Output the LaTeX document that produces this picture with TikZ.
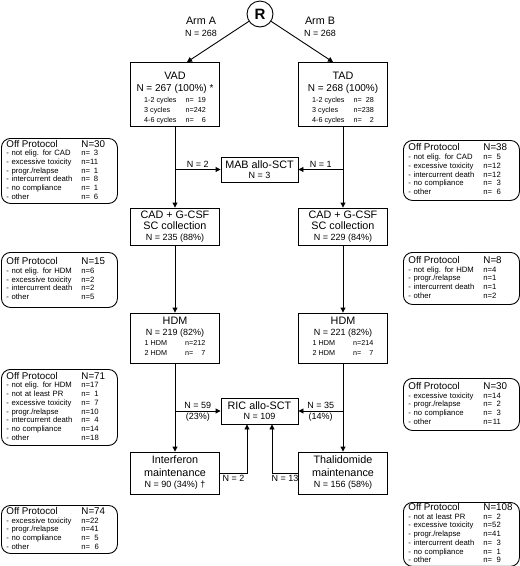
\documentclass[tikz,border=0pt]{standalone}
\usepackage{fontspec}
\setmainfont{Liberation Sans}
\usetikzlibrary{arrows.meta}
\newcommand\boxtitle{\fontsize{10.8}{12}\selectfont}
\newcommand\boxnum{\fontsize{9}{11}\selectfont}
\newcommand\boxsmall{\fontsize{7.2}{10}\selectfont}
\newcommand\offhead{\fontsize{9.8}{11}\selectfont}
\newcommand\offitem{\fontsize{7.7}{8.7}\selectfont}

\begin{document}
\begin{tikzpicture}[x=1pt, y=-1pt,
  box/.style={draw, line width=0.9pt, align=center, inner sep=1pt, font=\boxtitle},
  offbox/.style={draw, line width=0.9pt, rounded corners=9pt, anchor=north west, text width=106pt, align=left, inner xsep=5pt, inner ysep=1pt, font=\offitem},
  arr/.style={line width=0.9pt, -{Triangle[length=5pt, width=5pt]}},
  lbl/.style={font=\boxnum, inner sep=1.5pt}]
  \useasboundingbox (0,0) rectangle (520,566);
  % randomisation
  \node[circle, draw, line width=0.9pt, minimum size=26, inner sep=0pt, font=\fontsize{15}{15}\selectfont\bfseries] (R) at (260,14) {R};
  \node[align=center, font=\boxtitle] (armA) at (201,27) {Arm A\\{\boxnum N = 268}};
  \node[align=center, font=\boxtitle] (armB) at (320,27) {Arm B\\{\boxnum N = 268}};
  % induction
  \node[box, minimum width=89, minimum height=61] (vad) at (175,94.5) {\rule{0pt}{16pt}VAD\\[0pt]{\fontsize{10}{11}\selectfont N = 267 (100\%) *}\\[-1pt]{\boxsmall\begin{tabular}[t]{@{}l@{\hspace{9pt}}l@{}r@{}}1-2 cycles & n= & 19\\3 cycles & n= & 242\\4-6 cycles & n= & 6\end{tabular}}};
  \node[box, minimum width=89, minimum height=61] (tad) at (343,94.5) {\rule{0pt}{16pt}TAD\\[0pt]{\fontsize{10}{11}\selectfont N = 268 (100\%)}\\[-1pt]{\boxsmall\begin{tabular}[t]{@{}l@{\hspace{9pt}}l@{}r@{}}1-2 cycles & n= & 28\\3 cycles & n= & 238\\4-6 cycles & n= & 2\end{tabular}}};
  \node[box, minimum width=77, minimum height=25] (mab) at (259.5,169.5) {MAB allo-SCT\\[-2pt]{\boxnum N = 3}};
  % stem cell collection
  \node[box, minimum width=89, minimum height=37] (cadA) at (175,226.5) {CAD + G-CSF\\[-1pt]SC collection\\[-1pt]{\boxnum N = 235 (88\%)}};
  \node[box, minimum width=89, minimum height=37] (cadB) at (343,226.5) {CAD + G-CSF\\[-1pt]SC collection\\[-1pt]{\boxnum N = 229 (84\%)}};
  % high dose
  \node[box, minimum width=89, minimum height=50] (hdmA) at (175,338) {HDM\\[-1pt]{\boxnum N = 219 (82\%)}\\[-2pt]{\boxsmall\begin{tabular}[t]{@{}l@{\hspace{18pt}}l@{}r@{}}1 HDM & n= & 212\\2 HDM & n= & 7\end{tabular}}};
  \node[box, minimum width=89, minimum height=50] (hdmB) at (343,338) {HDM\\[-1pt]{\boxnum N = 221 (82\%)}\\[-2pt]{\boxsmall\begin{tabular}[t]{@{}l@{\hspace{18pt}}l@{}r@{}}1 HDM & n= & 214\\2 HDM & n= & 7\end{tabular}}};
  \node[box, minimum width=77, minimum height=26] (ric) at (259.5,411) {RIC allo-SCT\\[-2pt]{\boxnum N = 109}};
  % maintenance
  \node[box, minimum width=89, minimum height=42] (ifn) at (175,473) {Interferon\\[1pt]maintenance\\[-1pt]{\boxnum N = 90 (34\%) \textdagger}};
  \node[box, minimum width=89, minimum height=42] (thal) at (343,473) {Thalidomide\\[1pt]maintenance\\[-1pt]{\boxnum N = 156 (58\%)}};
  % connectors
  \draw[arr] (R) -- ([xshift=12]vad.north);
  \draw[arr] (R) -- ([xshift=-10]tad.north);
  \foreach \a/\b in {vad/cadA, cadA/hdmA, hdmA/ifn, tad/cadB, cadB/hdmB, hdmB/thal} \draw[arr] (\a) -- (\b);
  \draw[arr] (vad.south |- mab.west) -- node[lbl, above] (nmabA) {N = 2} (mab.west);
  \draw[arr] (tad.south |- mab.east) -- node[lbl, above] (nmabB) {N = 1} (mab.east);
  \draw[arr] (hdmA.south |- ric.west) -- node[lbl, above] (nricA) {N = 59} node[lbl, below] (pricA) {(23\%)} (ric.west);
  \draw[arr] (hdmB.south |- ric.east) -- node[lbl, above] (nricB) {N = 35} node[lbl, below] (pricB) {(14\%)} (ric.east);
  \draw[arr] (ifn.east) -| node[lbl, below, pos=0.25] (nifn) {N = 2} ([xshift=-12.5]ric.south);
  \draw[arr] (thal.west) -| node[lbl, below, pos=0.25] (nthal) {N = 13} ([xshift=12.5]ric.south);
  % off protocol, arm A
  \node[offbox, minimum height=65] (offA1) at (1,138) {\begin{tabular}{@{}p{75pt}@{}l@{}r@{}}
    {\offhead Off Protocol} & \multicolumn{2}{@{}l@{}}{\rlap{\offhead N=30}}\\
    - not elig. for CAD & n= & 3\\
    - excessive toxicity & n= & 11\\
    - progr./relapse & n= & 1\\
    - intercurrent death & n= & 8\\
    - no compliance & n= & 1\\
    - other & n= & 6
  \end{tabular}};
  \node[offbox, minimum height=55] (offA2) at (1,252) {\begin{tabular}{@{}p{75pt}@{}l@{}r@{}}
    {\offhead Off Protocol} & \multicolumn{2}{@{}l@{}}{\rlap{\offhead N=15}}\\
    - not elig. for HDM & n= & 6\\
    - excessive toxicity & n= & 2\\
    - intercurrent death & n= & 2\\
    - other & n= & 5
  \end{tabular}};
  \node[offbox, minimum height=76] (offA3) at (1,369) {\begin{tabular}{@{}p{75pt}@{}l@{}r@{}}
    {\offhead Off Protocol} & \multicolumn{2}{@{}l@{}}{\rlap{\offhead N=71}}\\
    - not elig. for HDM & n= & 17\\
    - not at least PR & n= & 1\\
    - excessive toxicity & n= & 7\\
    - progr./relapse & n= & 10\\
    - intercurrent death & n= & 4\\
    - no compliance & n= & 14\\
    - other & n= & 18
  \end{tabular}};
  \node[offbox, minimum height=48] (offA4) at (1,505) {\begin{tabular}{@{}p{75pt}@{}l@{}r@{}}
    {\offhead Off Protocol} & \multicolumn{2}{@{}l@{}}{\rlap{\offhead N=74}}\\
    - excessive toxicity & n= & 22\\
    - progr./relapse & n= & 41\\
    - no compliance & n= & 5\\
    - other & n= & 6
  \end{tabular}};
  % off protocol, arm B
  \node[offbox, minimum height=60] (offB1) at (403,140) {\begin{tabular}{@{}p{75pt}@{}l@{}r@{}}
    {\offhead Off Protocol} & \multicolumn{2}{@{}l@{}}{\rlap{\offhead N=38}}\\
    - not elig. for CAD & n= & 5\\
    - excessive toxicity & n= & 12\\
    - intercurrent death & n= & 12\\
    - no compliance & n= & 3\\
    - other & n= & 6
  \end{tabular}};
  \node[offbox, minimum height=52] (offB2) at (403,252) {\begin{tabular}{@{}p{75pt}@{}l@{}r@{}}
    {\offhead Off Protocol} & \multicolumn{2}{@{}l@{}}{\rlap{\offhead N=8}}\\
    - not elig. for HDM & n= & 4\\
    - progr./relapse & n= & 1\\
    - intercurrent death & n= & 1\\
    - other & n= & 2
  \end{tabular}};
  \node[offbox, minimum height=52] (offB3) at (403,378) {\begin{tabular}{@{}p{75pt}@{}l@{}r@{}}
    {\offhead Off Protocol} & \multicolumn{2}{@{}l@{}}{\rlap{\offhead N=30}}\\
    - excessive toxicity & n= & 14\\
    - progr./relapse & n= & 2\\
    - no compliance & n= & 3\\
    - other & n= & 11
  \end{tabular}};
  \node[offbox, minimum height=61] (offB4) at (403,502) {\begin{tabular}{@{}p{75pt}@{}l@{}r@{}}
    {\offhead Off Protocol} & \multicolumn{2}{@{}l@{}}{\rlap{\offhead N=108}}\\
    - not at least PR & n= & 2\\
    - excessive toxicity & n= & 52\\
    - progr./relapse & n= & 41\\
    - intercurrent death & n= & 3\\
    - no compliance & n= & 1\\
    - other & n= & 9
  \end{tabular}};
\end{tikzpicture}
\end{document}
